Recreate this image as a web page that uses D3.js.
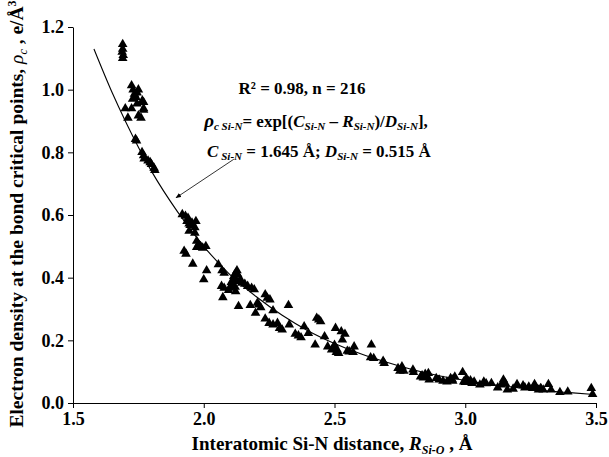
<!DOCTYPE html>
<html>
<head>
<meta charset="utf-8">
<script src="https://cdn.jsdelivr.net/npm/d3@7"></script>
<style>
    body { margin: 0; background: white; }
    svg text { font-family: "Liberation Serif", "Times New Roman", "DejaVu Serif", serif; font-weight: bold; }
</style>
</head>
<body>
<div class="graphique"></div>
<script>
// points: [R, rho]
const pointsR = [
    1.69, 1.69, 1.688, 1.692, 1.69,
    1.724, 1.73, 1.735, 1.745, 1.75, 1.74, 1.765, 1.77, 1.745, 1.77, 1.70, 1.724, 1.71, 1.75, 1.76, 1.77, 1.728, 1.738,
    1.739, 1.743, 1.764, 1.77, 1.772, 1.787, 1.80, 1.81, 1.813, 1.795,
    1.918, 1.93, 1.936, 1.944, 1.948, 1.944, 1.966, 1.97, 1.966, 1.973, 1.98, 1.988, 1.996, 2.008, 1.973, 1.925, 1.932, 1.958, 2.0, 2.011, 1.94, 1.955,
    2.056, 2.07, 2.078, 2.068, 2.078, 2.073, 2.1, 2.108, 2.112, 2.115, 2.122, 2.122, 2.133, 2.127, 2.138, 2.145, 2.157, 2.168, 2.183, 2.193,
    2.178, 2.198, 2.205, 2.21, 2.218, 2.235, 2.243, 2.253, 2.265, 2.235, 2.25, 2.265, 2.282, 2.29, 2.3, 2.324, 2.327, 2.35, 2.362, 2.372,
    2.384, 2.4, 2.426, 2.432, 2.44, 2.447, 2.462, 2.474, 2.489, 2.496, 2.504, 2.507, 2.516, 2.526, 2.53, 2.54, 2.549, 2.556, 2.571, 2.575,
    2.638, 2.641, 2.65, 2.686, 2.69, 2.743, 2.75, 2.758, 2.765, 2.8, 2.802, 2.829, 2.84, 2.847, 2.859, 2.862, 2.889, 2.9, 2.915, 2.93,
    2.944, 2.952, 2.96, 2.99, 2.994, 3.004, 3.011, 3.026, 3.034, 3.056, 3.071, 3.1, 3.124, 3.138, 3.146, 3.153, 3.161, 3.183, 3.198, 3.221,
    3.228, 3.243, 3.258, 3.265, 3.28, 3.288, 3.298, 3.318, 3.328, 3.362, 3.392, 3.482, 3.487,
    2.118, 2.13, 2.12, 2.105, 2.095, 2.14, 2.5, 2.51, 2.835, 2.85, 2.95, 3.0, 3.02, 3.08, 3.27, 3.29
];
const pointsRho = [
    1.145, 1.13, 1.12, 1.11, 1.10,
    1.013, 1.0, 0.986, 0.99, 1.0, 0.976, 0.965, 0.96, 0.955, 0.94, 0.94, 0.94, 0.91, 0.917, 0.91, 0.935, 0.97, 0.98,
    0.842, 0.837, 0.80, 0.79, 0.78, 0.773, 0.762, 0.75, 0.743, 0.768,
    0.602, 0.597, 0.58, 0.572, 0.567, 0.549, 0.56, 0.58, 0.543, 0.517, 0.506, 0.50, 0.495, 0.50, 0.497, 0.485, 0.476, 0.444, 0.394, 0.423, 0.59, 0.575,
    0.442, 0.423, 0.415, 0.373, 0.367, 0.337, 0.367, 0.378, 0.391, 0.405, 0.415, 0.356, 0.309, 0.423, 0.389, 0.383, 0.38, 0.373, 0.367, 0.362,
    0.312, 0.287, 0.319, 0.314, 0.305, 0.346, 0.335, 0.33, 0.295, 0.269, 0.255, 0.25, 0.255, 0.239, 0.234, 0.312, 0.25, 0.22, 0.215, 0.209,
    0.244, 0.223, 0.186, 0.271, 0.266, 0.26, 0.212, 0.18, 0.17, 0.175, 0.239, 0.162, 0.159, 0.228, 0.202, 0.22, 0.166, 0.164, 0.162, 0.18,
    0.145, 0.186, 0.143, 0.134, 0.127, 0.111, 0.102, 0.116, 0.102, 0.106, 0.098, 0.084, 0.081, 0.092, 0.095, 0.074, 0.079, 0.074, 0.07, 0.068,
    0.079, 0.07, 0.084, 0.098, 0.068, 0.079, 0.07, 0.063, 0.068, 0.058, 0.068, 0.063, 0.049, 0.058, 0.074, 0.063, 0.042, 0.045, 0.06, 0.056,
    0.049, 0.052, 0.047, 0.06, 0.042, 0.047, 0.042, 0.06, 0.042, 0.034, 0.036, 0.047, 0.028,
    0.40, 0.41, 0.37, 0.385, 0.36, 0.395, 0.185, 0.17, 0.088, 0.085, 0.075, 0.066, 0.072, 0.062, 0.05, 0.045
];

// fitted curve
const curveR = [1.58, 1.65, 1.7, 1.8, 1.9, 2.0, 2.1, 2.2, 2.3, 2.4, 2.5, 2.6, 2.7, 2.8, 2.9, 3.0, 3.1, 3.2, 3.3, 3.4, 3.48];
const curveRho = [1.13, 0.99, 0.90, 0.74, 0.61, 0.50, 0.41, 0.34, 0.28, 0.23, 0.19, 0.157, 0.13, 0.106, 0.087, 0.072, 0.059, 0.049, 0.040, 0.033, 0.028];

const xTicks = [1.5, 2.0, 2.5, 3.0, 3.5];
const yTicks = [0.0, 0.2, 0.4, 0.6, 0.8, 1.0, 1.2];

// arrow from the equation to the curve
const arrowFrom = [2.115, 0.778];
const arrowTo = [1.894, 0.655];

const width = 609;
const height = 457;
const margin = { top: 27, right: 13, bottom: 54, left: 73 };
const serif = "'Liberation Serif', 'Times New Roman', 'DejaVu Serif', serif";

const svg = d3.select(".graphique")
    .append("svg")
    .attr("width", width)
    .attr("height", height)
    .attr("font-family", serif);

const xScale = d3.scaleLinear().domain([1.5, 3.5]).range([margin.left, width - margin.right]);
const yScale = d3.scaleLinear().domain([0, 1.2]).range([height - margin.bottom, margin.top]);

const xAxis = svg.append("g")
    .attr("transform", `translate(0,${height - margin.bottom})`)
    .call(d3.axisBottom(xScale).tickValues(xTicks).tickFormat(d3.format(".1f")).tickSizeInner(5).tickSizeOuter(5));

const yAxis = svg.append("g")
    .attr("transform", `translate(${margin.left},0)`)
    .call(d3.axisLeft(yScale).tickValues(yTicks).tickFormat(d3.format(".1f")).tickSizeInner(5).tickSizeOuter(0));

[xAxis, yAxis].forEach(ax => {
    ax.attr("font-family", serif).attr("font-size", 18);
    ax.selectAll("path, line").attr("stroke", "black").attr("stroke-width", 1);
    ax.selectAll("text")
        .attr("fill", "black")
        .style("font-weight", "bold");
});
xAxis.selectAll("text").attr("dy", "0.71em").attr("y", 9);
yAxis.selectAll("text").attr("x", -9);

// fitted curve
const curveData = curveR.map((r, i) => ({ r: r, rho: curveRho[i] }));
const line = d3.line().x(d => xScale(d.r)).y(d => yScale(d.rho)).curve(d3.curveMonotoneX);

svg.append("path")
    .datum(curveData)
    .attr("fill", "none")
    .attr("stroke", "black")
    .attr("stroke-width", 1.1)
    .attr("d", line);

// points
const points = pointsR.map((r, i) => ({ r: r, rho: pointsRho[i] }));
const triangle = d3.symbol().type(d3.symbolTriangle).size(40);

svg.selectAll(".pt")
    .data(points)
    .enter().append("path")
    .attr("class", "pt")
    .attr("transform", d => `translate(${xScale(d.r)},${yScale(d.rho)})`)
    .attr("d", triangle)
    .attr("fill", "black");

// arrow
svg.append("defs").append("marker")
    .attr("id", "head")
    .attr("viewBox", "0 0 10 10")
    .attr("refX", 9)
    .attr("refY", 5)
    .attr("markerWidth", 7)
    .attr("markerHeight", 7)
    .attr("orient", "auto")
    .append("path")
    .attr("d", "M0,1 L10,5 L0,9 Z")
    .attr("fill", "black");

svg.append("line")
    .attr("x1", xScale(arrowFrom[0]))
    .attr("y1", yScale(arrowFrom[1]))
    .attr("x2", xScale(arrowTo[0]))
    .attr("y2", yScale(arrowTo[1]))
    .attr("stroke", "black")
    .attr("stroke-width", 0.8)
    .attr("marker-end", "url(#head)");

// equation text
const note = svg.append("g").attr("font-size", 17).attr("fill", "black");

note.append("text")
    .attr("x", 302)
    .attr("y", 94)
    .attr("text-anchor", "middle")
    .text("R² = 0.98, n = 216");

const eq = note.append("text")
    .attr("x", 316)
    .attr("y", 127)
    .attr("text-anchor", "middle");
eq.append("tspan").style("font-style", "italic").style("font-size", "19px").text("ρ");
eq.append("tspan").style("font-style", "italic").style("font-size", "11px").attr("dy", 3).text("c Si-N");
eq.append("tspan").attr("dy", -3).text("= exp[(");
eq.append("tspan").style("font-style", "italic").text("C");
eq.append("tspan").style("font-style", "italic").style("font-size", "11px").attr("dy", 3).text("Si-N");
eq.append("tspan").attr("dy", -3).text(" – ");
eq.append("tspan").style("font-style", "italic").text("R");
eq.append("tspan").style("font-style", "italic").style("font-size", "11px").attr("dy", 3).text("Si-N");
eq.append("tspan").attr("dy", -3).text(")/");
eq.append("tspan").style("font-style", "italic").text("D");
eq.append("tspan").style("font-style", "italic").style("font-size", "11px").attr("dy", 3).text("Si-N");
eq.append("tspan").attr("dy", -3).text("],");

const cd = note.append("text")
    .attr("x", 319)
    .attr("y", 157)
    .attr("text-anchor", "middle");
cd.append("tspan").style("font-style", "italic").text("C");
cd.append("tspan").style("font-style", "italic").style("font-size", "11px").attr("dy", 3).text(" Si-N");
cd.append("tspan").attr("dy", -3).text(" = 1.645 Å; ");
cd.append("tspan").style("font-style", "italic").text("D");
cd.append("tspan").style("font-style", "italic").style("font-size", "11px").attr("dy", 3).text("Si-N");
cd.append("tspan").attr("dy", -3).text(" = 0.515 Å");

// axis titles
const xTitle = svg.append("text")
    .attr("x", 332)
    .attr("y", 450)
    .attr("text-anchor", "middle")
    .attr("font-size", 19);
xTitle.append("tspan").text("Interatomic Si-N distance, ");
xTitle.append("tspan").style("font-style", "italic").text("R");
xTitle.append("tspan").style("font-style", "italic").style("font-size", "12px").attr("dy", 4).text("Si-O");
xTitle.append("tspan").attr("dy", -4).text(" , Å");

const yTitle = svg.append("text")
    .attr("transform", `translate(23,214) rotate(-90)`)
    .attr("text-anchor", "middle")
    .attr("font-size", 19.5);
yTitle.append("tspan").text("Electron density  at the bond critical points, ");
yTitle.append("tspan").style("font-style", "italic").style("font-weight", "normal").text("ρ");
yTitle.append("tspan").style("font-style", "italic").style("font-weight", "normal").style("font-size", "12px").attr("dy", 4).text("c");
yTitle.append("tspan").attr("dy", -4).text(" , e/Å");
yTitle.append("tspan").style("font-size", "12px").attr("dy", -7).text("3");
</script>
</body>
</html>
